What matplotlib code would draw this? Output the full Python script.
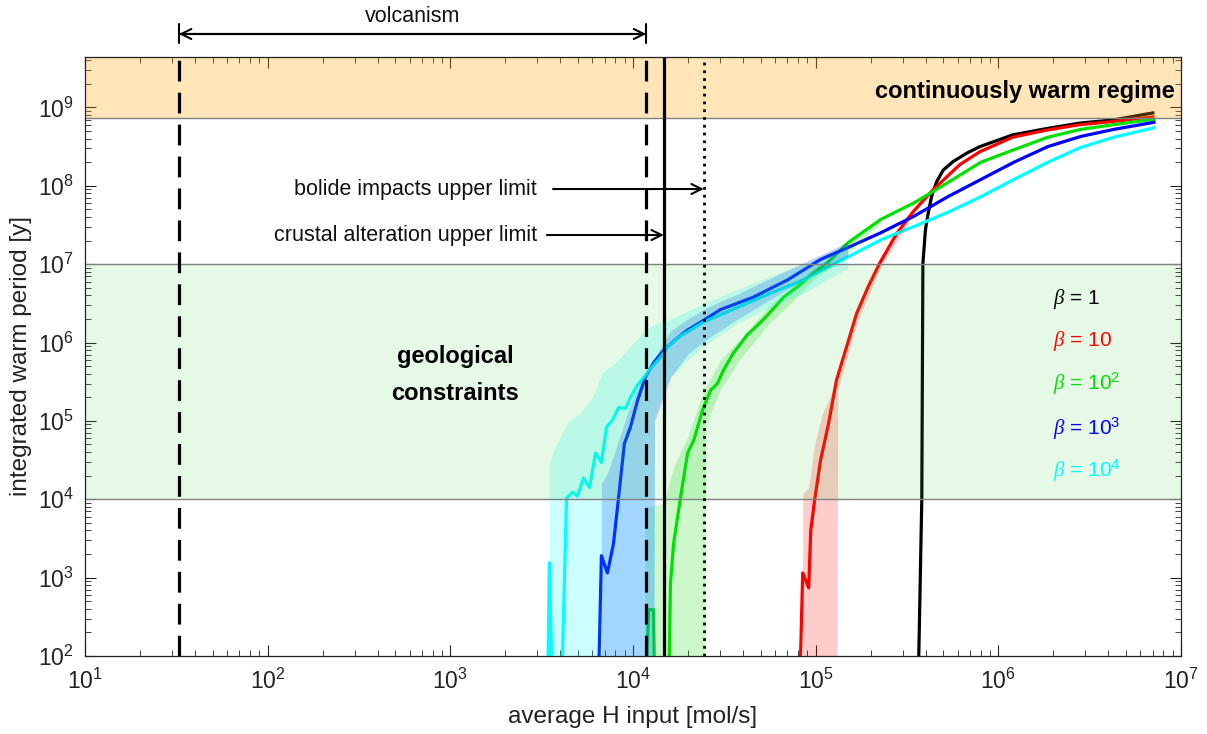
import numpy as np
import matplotlib
matplotlib.use("Agg")
import matplotlib.pyplot as plt
from matplotlib.ticker import LogLocator, NullFormatter

plt.rcParams['font.family'] = ['Liberation Sans', 'DejaVu Sans']
plt.rcParams['mathtext.fontset'] = 'custom'
plt.rcParams['mathtext.rm'] = 'Liberation Sans'
plt.rcParams['mathtext.it'] = 'Liberation Serif:italic'
plt.rcParams['mathtext.bf'] = 'Liberation Sans:bold'

# ---------------- data (log10 units) ----------------
# values with log10 = 0 are off-scale (no warm period)
b1_logH = [5.548, 5.581, 5.587, 5.601, 5.616, 5.634, 5.662, 5.698, 5.753, 5.826, 5.899, 6.079,
           6.264, 6.446, 6.627, 6.846]
b1_logT = [0.0, 4.0, 7.01, 7.44, 7.65, 7.86, 8.05, 8.20, 8.31, 8.415, 8.50, 8.65,
           8.73, 8.80, 8.84, 8.93]

b10_logH = [4.895, 4.929, 4.962, 4.973, 4.995, 5.027, 5.071, 5.114, 5.169, 5.224, 5.287, 5.350,
            5.443, 5.534, 5.643, 5.789, 5.899, 6.079, 6.264, 6.446, 6.627, 6.846]
b10_logT = [0.0, 3.06, 2.87, 3.60, 4.0, 4.50, 4.97, 5.52, 5.945, 6.37, 6.71, 7.01,
            7.39, 7.67, 7.95, 8.27, 8.435, 8.62, 8.71, 8.78, 8.82, 8.88]

b100_logH = [4.050, 4.085, 4.112, 4.130, 4.185, 4.205, 4.222, 4.260, 4.299, 4.332, 4.381, 4.425,
             4.463, 4.496, 4.551, 4.627, 4.682, 4.737, 4.825, 4.901, 4.989, 5.066, 5.175, 5.356,
             5.537, 5.723, 5.904, 6.085, 6.271, 6.452, 6.633, 6.852]
b100_logT = [0.0, 2.59, 2.59, 0.0, 0.0, 2.92, 3.43, 4.02, 4.59, 4.75, 5.14, 5.39,
             5.48, 5.65, 5.87, 6.10, 6.22, 6.35, 6.58, 6.71, 6.89, 7.02, 7.27, 7.57,
             7.78, 8.04, 8.30, 8.46, 8.62, 8.72, 8.78, 8.85]

b1000_logH = [3.795, 3.827, 3.860, 3.893, 3.921, 3.953, 3.986, 4.025, 4.068, 4.112, 4.167, 4.244,
              4.299, 4.370, 4.479, 4.660, 4.847, 5.027, 5.175, 5.356, 5.537, 5.723, 5.904, 6.085,
              6.271, 6.452, 6.633, 6.852]
b1000_logT = [0.0, 3.28, 3.06, 3.43, 4.02, 4.71, 4.92, 5.26, 5.56, 5.74, 5.90, 6.06,
              6.16, 6.26, 6.42, 6.58, 6.80, 7.06, 7.21, 7.40, 7.61, 7.86, 8.08, 8.30,
              8.50, 8.63, 8.72, 8.81]

b10000_logH = [3.525, 3.542, 3.575, 3.592, 3.636, 3.668, 3.696, 3.729, 3.762, 3.795, 3.827, 3.855,
               3.888, 3.921, 3.959, 3.986, 4.025, 4.058, 4.096, 4.151, 4.189, 4.244, 4.386, 4.573,
               4.753, 4.934, 5.175, 5.356, 5.537, 5.723, 5.904, 6.085, 6.271, 6.452, 6.633, 6.852]
b10000_logT = [0.0, 3.19, 0.0, 0.0, 4.01, 4.09, 4.04, 4.27, 4.15, 4.59, 4.47, 4.92,
               5.01, 5.17, 5.16, 5.30, 5.46, 5.55, 5.67, 5.81, 5.94, 6.06, 6.26, 6.45,
               6.63, 6.80, 7.09, 7.31, 7.48, 7.66, 7.86, 8.08, 8.30, 8.49, 8.62, 8.74]

# spread bands (log10 units)
b10_band_logH = [4.929, 4.962, 4.995, 5.038, 5.071, 5.115, 5.121, 5.230, 5.356, 5.537]
b10_band_lo = [0, 0, 0, 0, 0, 0, 5.40, 6.28, 6.96, 7.64]
b10_band_hi = [4.07, 4.15, 4.71, 5.10, 5.26, 5.55, 5.62, 6.46, 7.07, 7.71]

b100_band_logH = [4.065, 4.167, 4.222, 4.299, 4.386, 4.392, 4.398, 4.479, 4.589, 4.737, 4.863, 4.989, 5.137, 5.356]
b100_band_lo = [0, 0, 0, 0, 0, 0, 4.95, 5.40, 5.80, 6.22, 6.50, 6.80, 7.05, 7.52]
b100_band_hi = [3.90, 3.95, 4.41, 4.79, 5.38, 5.40, 5.42, 5.78, 6.05, 6.45, 6.70, 6.95, 7.18, 7.60]

b1000_band_logH = [3.827, 3.860, 3.893, 3.921, 3.970, 4.003, 4.041, 4.096, 4.112, 4.118, 4.205, 4.299,
                   4.408, 4.573, 4.753, 4.934, 5.175]
b1000_band_lo = [0, 0, 0, 0, 0, 0, 0, 0, 0, 5.00, 5.55, 5.85, 6.05, 6.30, 6.55, 6.80, 7.10]
b1000_band_hi = [4.20, 4.33, 4.55, 4.75, 5.10, 5.30, 5.50, 5.72, 5.78, 5.80, 6.15, 6.30, 6.45, 6.62, 6.82, 7.02, 7.28]

b10000_band_logH = [3.542, 3.564, 3.641, 3.712, 3.778, 3.833, 3.888, 3.932, 4.003, 4.079, 4.112, 4.118,
                    4.205, 4.299, 4.408, 4.573, 4.753, 4.934, 5.175]
b10000_band_lo = [0, 0, 0, 0, 0, 0, 0, 0, 0, 0, 0, 5.10, 5.56, 5.78, 5.99, 6.25, 6.45, 6.63, 6.95]
b10000_band_hi = [4.46, 4.62, 4.98, 5.10, 5.30, 5.62, 5.71, 5.81, 6.00, 6.18, 6.22, 6.23, 6.30, 6.40,
                  6.52, 6.68, 6.85, 7.00, 7.25]

beta_labels = [r'$\beta$ = 1', r'$\beta$ = 10', r'$\beta$ = 10$^2$', r'$\beta$ = 10$^3$', r'$\beta$ = 10$^4$']
beta_colors = ['black', '#ff0000', '#00e000', '#0000ff', '#00ffff']

x_ticks = [1e1, 1e2, 1e3, 1e4, 1e5, 1e6, 1e7]
y_ticks = [1e2, 1e3, 1e4, 1e5, 1e6, 1e7, 1e8, 1e9]

# limits (mol/s) and regimes (years)
volcanism_low = 32.7
volcanism_high = 1.18e4
crustal_limit = 1.475e4
bolide_limit = 2.44e4
geo_low, geo_high = 1e4, 1e7
warm_regime = 7.3e8

# ---------------- figure ----------------
fig = plt.figure(figsize=(12.07, 7.34), dpi=100)
ax = fig.add_axes([85/1207, 1-656/734, 1096/1207, 599/734])
ax.set_xscale('log')
ax.set_yscale('log')
ax.set_xlim(1e1, 1e7)
ax.set_ylim(1e2, 4.4e9)
ax.set_xticks(x_ticks)
ax.set_yticks(y_ticks)
ax.xaxis.set_minor_locator(LogLocator(base=10, subs=np.arange(2, 10), numticks=20))
ax.yaxis.set_minor_locator(LogLocator(base=10, subs=np.arange(2, 10), numticks=20))
ax.xaxis.set_minor_formatter(NullFormatter())
ax.yaxis.set_minor_formatter(NullFormatter())

series = [
    (b1_logH, b1_logT, None),
    (b10_logH, b10_logT, (b10_band_logH, b10_band_lo, b10_band_hi)),
    (b100_logH, b100_logT, (b100_band_logH, b100_band_lo, b100_band_hi)),
    (b1000_logH, b1000_logT, (b1000_band_logH, b1000_band_lo, b1000_band_hi)),
    (b10000_logH, b10000_logT, (b10000_band_logH, b10000_band_lo, b10000_band_hi)),
]
for (lh, lt, band), col in zip(series, beta_colors):
    ax.plot(10**np.array(lh), 10**np.array(lt), color=col, lw=2.3, zorder=2,
            solid_joinstyle='round')
    if band is not None:
        bx, blo, bhi = band
        ax.fill_between(10**np.array(bx), 10**np.array(blo), 10**np.array(bhi),
                        color=col, alpha=0.2, lw=0, zorder=3)

# background regimes
ax.axhspan(geo_low, geo_high, facecolor='#33cc33', alpha=0.12, lw=0, zorder=4)
ax.axhspan(warm_regime, 1e12, facecolor='#ffa500', alpha=0.28, lw=0, zorder=4)
for yv in (geo_low, geo_high, warm_regime):
    ax.axhline(yv, color='0.5', lw=1.0, zorder=4.5)

# vertical limits
ax.axvline(volcanism_low, color='black', lw=2.3, ls=(0, (6.5, 3.5)), zorder=6)
ax.axvline(volcanism_high, color='black', lw=2.3, ls=(0, (6.5, 3.5)), zorder=6)
ax.axvline(crustal_limit, color='black', lw=2.3, zorder=6)
ax.axvline(bolide_limit, color='black', lw=2.0, ls=(0, (1, 1.8)), zorder=6)

# annotations
blend = ('data', 'axes fraction')
ax.annotate('', xy=(volcanism_low, 1.0384), xytext=(volcanism_high, 1.0384),
            xycoords=blend, textcoords=blend,
            arrowprops=dict(arrowstyle='<->', lw=1.5, color='black',
                            shrinkA=0, shrinkB=0, mutation_scale=18),
            annotation_clip=False)
ax.annotate('', xy=(volcanism_low, 1.0384), xytext=(volcanism_high, 1.0384),
            xycoords=blend, textcoords=blend,
            arrowprops=dict(arrowstyle='|-|,widthA=0.38,widthB=0.38', lw=1.5, color='black',
                            shrinkA=0, shrinkB=0, mutation_scale=18),
            annotation_clip=False)
ax.text(np.sqrt(volcanism_low*volcanism_high), 1.0668, 'volcanism', transform=ax.get_xaxis_transform(),
        ha='center', va='center', fontsize=15.5, color='#111111')

ax.annotate('', xy=(bolide_limit, 0.7796), xytext=(3.65e3, 0.7796),
            xycoords=blend, textcoords=blend,
            arrowprops=dict(arrowstyle='->', lw=1.5, color='black', shrinkA=0, shrinkB=0,
                            mutation_scale=18), zorder=7)
ax.text(0.4124, 0.7796, 'bolide impacts upper limit', transform=ax.transAxes,
        ha='right', va='center', fontsize=15.5, color='#111111')
ax.annotate('', xy=(crustal_limit, 0.7028), xytext=(3.38e3, 0.7028),
            xycoords=blend, textcoords=blend,
            arrowprops=dict(arrowstyle='->', lw=1.5, color='black', shrinkA=0, shrinkB=0,
                            mutation_scale=18), zorder=7)
ax.text(0.4124, 0.7028, 'crustal alteration upper limit', transform=ax.transAxes,
        ha='right', va='center', fontsize=15.5, color='#111111')

ax.text(0.9945, 0.9432, 'continuously warm regime', transform=ax.transAxes,
        ha='right', va='center', fontsize=17, fontweight='bold', color='black', zorder=8)
ax.text(0.3376, 0.4992, 'geological', transform=ax.transAxes,
        ha='center', va='center', fontsize=17, fontweight='bold', color='black', zorder=8)
ax.text(0.3376, 0.4374, 'constraints', transform=ax.transAxes,
        ha='center', va='center', fontsize=17, fontweight='bold', color='black', zorder=8)

for lab, col, yb in zip(beta_labels, beta_colors, [0.5876, 0.5175, 0.4441, 0.3689, 0.2988]):
    ax.text(0.883, yb, lab, transform=ax.transAxes, ha='left', va='baseline',
            fontsize=15, color=col, zorder=8)

ax.set_xlabel('average H input [mol/s]', fontsize=17.5, color='#222222', labelpad=9)
ax.set_ylabel('integrated warm period [y]', fontsize=17.5, color='#222222', labelpad=4)

ax.tick_params(which='both', direction='in', top=True, right=True, colors='#222222')
ax.tick_params(which='major', length=8, width=0.8, labelsize=16.5)
ax.tick_params(axis='x', which='major', pad=9)
ax.tick_params(axis='y', which='major', pad=8)
ax.tick_params(which='minor', length=4.3, width=0.6)
for s in ax.spines.values():
    s.set_color('#222222')
    s.set_linewidth(0.9)
    s.set_zorder(9)

fig.savefig('out.png', dpi=100)
